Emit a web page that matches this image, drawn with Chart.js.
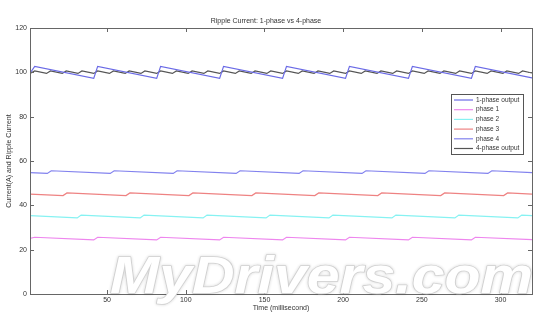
<!DOCTYPE html>
<html>
<head>
<meta charset="utf-8">
<script src="https://cdn.jsdelivr.net/npm/chart.js@4/dist/chart.umd.min.js"></script>
<style>
    html, body { margin: 0; padding: 0; background: #fff; }
    #box { width: 550px; height: 313px; }
</style>
</head>
<body>
<div id="box"><canvas id="rippleChart"></canvas></div>
<script>
// Data (time in ms, current in A)

const seriesNames = ["1-phase output", "phase 1", "phase 2", "phase 3", "phase 4", "4-phase output"];
const xTicks = [50, 100, 150, 200, 250, 300];
const yTicks = [0, 20, 40, 60, 80, 100, 120];

const onePhaseT = [1, 4, 41.5, 44, 81.5, 84, 121.5, 124, 161.5, 164, 201.5, 204, 241.5, 244, 281.5, 284, 320];
const onePhaseI = [99.6, 102.7, 97.3, 102.7, 97.3, 102.7, 97.3, 102.7, 97.3, 102.7, 97.3, 102.7, 97.3, 102.7, 97.3, 102.7, 97.5];

const phase1T = [1, 4, 41.5, 44, 81.5, 84, 121.5, 124, 161.5, 164, 201.5, 204, 241.5, 244, 281.5, 284, 320];
const phase1I = [25.1, 25.6, 24.4, 25.6, 24.4, 25.6, 24.4, 25.6, 24.4, 25.6, 24.4, 25.6, 24.4, 25.6, 24.4, 25.6, 24.5];

const phase2T = [1, 31, 33.5, 71, 73.5, 111, 113.5, 151, 153.5, 191, 193.5, 231, 233.5, 271, 273.5, 311, 313.5, 320];
const phase2I = [35.4, 34.3, 35.6, 34.3, 35.6, 34.3, 35.6, 34.3, 35.6, 34.3, 35.6, 34.3, 35.6, 34.3, 35.6, 34.3, 35.6, 35.4];

const phase3T = [1, 22, 24.5, 62, 64.5, 102, 104.5, 142, 144.5, 182, 184.5, 222, 224.5, 262, 264.5, 302, 304.5, 320];
const phase3I = [45.1, 44.4, 45.6, 44.4, 45.6, 44.4, 45.6, 44.4, 45.6, 44.4, 45.6, 44.4, 45.6, 44.4, 45.6, 44.4, 45.6, 45.1];

const phase4T = [1, 12, 14.5, 52, 54.5, 92, 94.5, 132, 134.5, 172, 174.5, 212, 214.5, 252, 254.5, 292, 294.5, 320];
const phase4I = [54.8, 54.4, 55.6, 54.4, 55.6, 54.4, 55.6, 54.4, 55.6, 54.4, 55.6, 54.4, 55.6, 54.4, 55.6, 54.4, 55.6, 54.8];

const fourPhaseT = [1, 4, 11.5, 14, 21.5, 24, 31.5, 34, 41.5, 44, 51.5, 54, 61.5, 64, 71.5, 74, 81.5, 84,
    91.5, 94, 101.5, 104, 111.5, 114, 121.5, 124, 131.5, 134, 141.5, 144, 151.5, 154, 161.5, 164,
    171.5, 174, 181.5, 184, 191.5, 194, 201.5, 204, 211.5, 214, 221.5, 224, 231.5, 234, 241.5, 244,
    251.5, 254, 261.5, 264, 271.5, 274, 281.5, 284, 291.5, 294, 301.5, 304, 311.5, 314, 320];
const fourPhaseI = [99.5, 100.6, 99.5, 100.6, 99.5, 100.6, 99.5, 100.6, 99.5, 100.6, 99.5, 100.6, 99.5, 100.6, 99.5, 100.6, 99.5, 100.6,
    99.5, 100.6, 99.5, 100.6, 99.5, 100.6, 99.5, 100.6, 99.5, 100.6, 99.5, 100.6, 99.5, 100.6, 99.5, 100.6,
    99.5, 100.6, 99.5, 100.6, 99.5, 100.6, 99.5, 100.6, 99.5, 100.6, 99.5, 100.6, 99.5, 100.6, 99.5, 100.6,
    99.5, 100.6, 99.5, 100.6, 99.5, 100.6, 99.5, 100.6, 99.5, 100.6, 99.5, 100.6, 99.5, 100.6, 99.7];

const colors = ["#6a6ae6", "#ee86ee", "#86f2f2", "#ee8282", "#8282ee", "#555555"];
const font = "'Liberation Sans', Arial, sans-serif";

function makePoints(times, values) {
    return times.map((t, i) => ({ x: t, y: values[i] }));
}

const seriesData = [
    makePoints(onePhaseT, onePhaseI),
    makePoints(phase1T, phase1I),
    makePoints(phase2T, phase2I),
    makePoints(phase3T, phase3I),
    makePoints(phase4T, phase4I),
    makePoints(fourPhaseT, fourPhaseI)
];

let datasets = [];
for (let i = 0; i < seriesNames.length; i++) {
    datasets.push({
        label: seriesNames[i],
        data: seriesData[i],
        borderColor: colors[i],
        borderWidth: 1.2,
        pointRadius: 0,
        tension: 0
    });
}

// matlab style frame: box, inward ticks, legend in the corner, watermark
const framePlugin = {
    id: "frame",
    afterDatasetsDraw(chart) {
        const ctx = chart.ctx;
        const area = chart.chartArea;
        const xs = chart.scales.x;
        const ys = chart.scales.y;
        ctx.save();
        ctx.strokeStyle = "#666";
        ctx.lineWidth = 1;
        ctx.strokeRect(Math.round(area.left) + 0.5, Math.round(area.top) + 0.5,
            Math.round(area.right - area.left), Math.round(area.bottom - area.top));
        ctx.beginPath();
        for (const v of xTicks) {
            const px = Math.round(xs.getPixelForValue(v)) + 0.5;
            ctx.moveTo(px, area.top); ctx.lineTo(px, area.top + 4);
            ctx.moveTo(px, area.bottom); ctx.lineTo(px, area.bottom - 4);
        }
        for (const v of yTicks) {
            const py = Math.round(ys.getPixelForValue(v)) + 0.5;
            ctx.moveTo(area.left, py); ctx.lineTo(area.left + 4, py);
            ctx.moveTo(area.right, py); ctx.lineTo(area.right - 4, py);
        }
        ctx.stroke();

        // legend box
        const lx = 451, ly = 94, lw = 72, lh = 60;
        ctx.fillStyle = "#fff";
        ctx.fillRect(lx, ly, lw, lh);
        ctx.strokeStyle = "#555";
        ctx.strokeRect(lx + 0.5, ly + 0.5, lw, lh);
        ctx.font = "6.5px " + font;
        ctx.textBaseline = "middle";
        ctx.textAlign = "left";
        chart.data.datasets.forEach((ds, i) => {
            const y = ly + 6 + i * 9.7;
            ctx.strokeStyle = ds.borderColor;
            ctx.lineWidth = 1.2;
            ctx.beginPath();
            ctx.moveTo(lx + 3, y); ctx.lineTo(lx + 22, y);
            ctx.stroke();
            ctx.fillStyle = "#333";
            ctx.fillText(ds.label, lx + 25, y);
        });
        ctx.restore();
    },
    afterDraw(chart) {
        const ctx = chart.ctx;
        ctx.save();
        ctx.font = "italic bold 52px " + font;
        const text = "MyDrivers.com";
        const w = ctx.measureText(text).width;
        ctx.translate(110, 293);
        ctx.scale(423 / w, 1);
        ctx.lineJoin = "round";
        ctx.shadowColor = "rgba(0,0,0,0.2)";
        ctx.shadowBlur = 3;
        ctx.strokeStyle = "#d0d0d0";
        ctx.lineWidth = 1.6;
        ctx.strokeText(text, 0, 0);
        ctx.shadowBlur = 0;
        ctx.fillStyle = "#fff";
        ctx.fillText(text, 0, 0);
        ctx.restore();
    }
};

new Chart(document.querySelector("#rippleChart"), {
    type: "line",
    data: { datasets: datasets },
    options: {
        responsive: true,
        maintainAspectRatio: false,
        animation: false,
        layout: { padding: { left: 0, right: 18, top: 0, bottom: 0 } },
        plugins: {
            legend: { display: false },
            tooltip: { enabled: false },
            title: {
                display: true,
                text: "Ripple Current: 1-phase vs 4-phase",
                color: "#333",
                font: { family: font, size: 7, weight: "normal" },
                padding: { top: 17, bottom: 2.6 }
            }
        },
        scales: {
            x: {
                type: "linear",
                min: 1,
                max: 320,
                afterBuildTicks: (scale) => { scale.ticks = xTicks.map((v) => ({ value: v })); },
                afterFit: (scale) => { scale.height = 19; },
                grid: { display: false, drawTicks: false },
                border: { display: false },
                ticks: { color: "#333", padding: 2, font: { family: font, size: 7 } },
                title: {
                    display: true,
                    text: "Time (millisecond)",
                    color: "#333",
                    font: { family: font, size: 7 },
                    padding: { top: 0, bottom: 1 }
                }
            },
            y: {
                min: 0,
                max: 120,
                afterBuildTicks: (scale) => { scale.ticks = yTicks.map((v) => ({ value: v })); },
                afterFit: (scale) => { scale.width = 30; },
                grid: { display: false, drawTicks: false },
                border: { display: false },
                ticks: { color: "#333", padding: 3, font: { family: font, size: 7 } },
                title: {
                    display: true,
                    text: "Current(A) and Ripple Current",
                    color: "#333",
                    font: { family: font, size: 7 },
                    padding: { top: 5, bottom: 0 }
                }
            }
        }
    },
    plugins: [framePlugin]
});
</script>
</body>
</html>
